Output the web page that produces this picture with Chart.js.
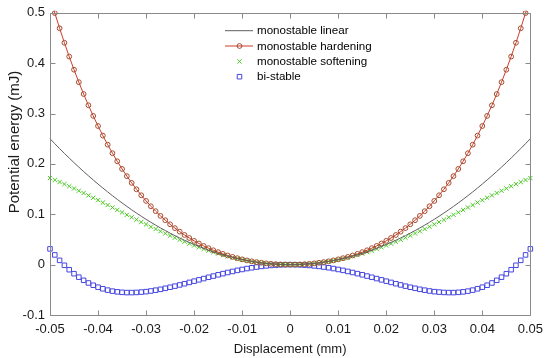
<!DOCTYPE html>
<html>
<head>
<meta charset="utf-8">
<script src="https://cdn.jsdelivr.net/npm/chart.js@4/dist/chart.umd.min.js"></script>
<style>
html,body{margin:0;padding:0;background:#fff;}
#wrap{width:550px;height:358px;}
</style>
</head>
<body>
<div id="wrap"><canvas id="c" width="550" height="358"></canvas></div>
<script>
// Displacement (mm)
const xValues = [-0.05,-0.049,-0.048,-0.047,-0.046,-0.045,-0.044,-0.043,-0.042,-0.041,-0.04,-0.039,-0.038,-0.037,-0.036,-0.035,-0.034,-0.033,-0.032,-0.031,-0.03,-0.029,-0.028,-0.027,-0.026,-0.025,-0.024,-0.023,-0.022,-0.021,-0.02,-0.019,-0.018,-0.017,-0.016,-0.015,-0.014,-0.013,-0.012,-0.011,-0.01,-0.009,-0.008,-0.007,-0.006,-0.005,-0.004,-0.003,-0.002,-0.001,0,
0.001,0.002,0.003,0.004,0.005,0.006,0.007,0.008,0.009,0.01,0.011,0.012,0.013,0.014,0.015,0.016,0.017,0.018,0.019,0.02,0.021,0.022,0.023,0.024,0.025,0.026,0.027,0.028,0.029,0.03,0.031,0.032,0.033,0.034,0.035,0.036,0.037,0.038,0.039,0.04,0.041,0.042,0.043,0.044,0.045,0.046,0.047,0.048,0.049,0.05];

// Potential energy (mJ)
const linear = [0.25,0.2401,0.2304,0.2209,0.2116,0.2025,0.1936,0.1849,0.1764,0.1681,0.16,0.1521,0.1444,0.1369,0.1296,0.1225,0.1156,0.1089,0.1024,0.0961,0.09,0.0841,0.0784,0.0729,0.0676,0.0625,0.0576,0.0529,0.0484,0.0441,0.04,0.0361,0.0324,0.0289,0.0256,0.0225,0.0196,0.0169,0.0144,0.0121,0.01,0.0081,0.0064,0.0049,0.0036,0.0025,0.0016,0.0009,0.0004,0.0001,0,
0.0001,0.0004,0.0009,0.0016,0.0025,0.0036,0.0049,0.0064,0.0081,0.01,0.0121,0.0144,0.0169,0.0196,0.0225,0.0256,0.0289,0.0324,0.0361,0.04,0.0441,0.0484,0.0529,0.0576,0.0625,0.0676,0.0729,0.0784,0.0841,0.09,0.0961,0.1024,0.1089,0.1156,0.1225,0.1296,0.1369,0.1444,0.1521,0.16,0.1681,0.1764,0.1849,0.1936,0.2025,0.2116,0.2209,0.2304,0.2401,0.25];

const hardening = [0.5313,0.4995,0.4693,0.4405,0.4131,0.3870,0.3623,0.3387,0.3164,0.2953,0.2752,0.2562,0.2382,0.2212,0.2052,0.1900,0.1757,0.1623,0.1496,0.1377,0.1265,0.1159,0.1061,0.0968,0.0882,0.0801,0.0725,0.0655,0.0589,0.0529,0.0472,0.0420,0.0371,0.0327,0.0285,0.0248,0.0213,0.0182,0.0153,0.0128,0.0105,0.0084,0.0066,0.0050,0.0037,0.0025,0.0016,0.0009,0.0004,0.0001,0,
0.0001,0.0004,0.0009,0.0016,0.0025,0.0037,0.0050,0.0066,0.0084,0.0105,0.0128,0.0153,0.0182,0.0213,0.0248,0.0285,0.0327,0.0371,0.0420,0.0472,0.0529,0.0589,0.0655,0.0725,0.0801,0.0882,0.0968,0.1061,0.1159,0.1265,0.1377,0.1496,0.1623,0.1757,0.1900,0.2052,0.2212,0.2382,0.2562,0.2752,0.2953,0.3164,0.3387,0.3623,0.3870,0.4131,0.4405,0.4693,0.4995,0.5313];

const softening = [0.1719,0.1680,0.1640,0.1599,0.1556,0.1512,0.1467,0.1422,0.1375,0.1328,0.128,0.1232,0.1183,0.1135,0.1086,0.1037,0.0989,0.0941,0.0893,0.0846,0.0799,0.0753,0.0707,0.0663,0.0619,0.0576,0.0535,0.0494,0.0455,0.0417,0.038,0.0345,0.0311,0.0279,0.0248,0.0219,0.0191,0.0165,0.0141,0.0119,0.0099,0.0080,0.0063,0.0049,0.0036,0.0025,0.0016,0.0009,0.0004,0.0001,0,
0.0001,0.0004,0.0009,0.0016,0.0025,0.0036,0.0049,0.0063,0.0080,0.0099,0.0119,0.0141,0.0165,0.0191,0.0219,0.0248,0.0279,0.0311,0.0345,0.038,0.0417,0.0455,0.0494,0.0535,0.0576,0.0619,0.0663,0.0707,0.0753,0.0799,0.0846,0.0893,0.0941,0.0989,0.1037,0.1086,0.1135,0.1183,0.1232,0.128,0.1328,0.1375,0.1422,0.1467,0.1512,0.1556,0.1599,0.1640,0.1680,0.1719];

const bistable = [0.0313,0.0193,0.0085,-0.0013,-0.0101,-0.0180,-0.0249,-0.0311,-0.0364,-0.0409,-0.0448,-0.0480,-0.0506,-0.0526,-0.0540,-0.0550,-0.0555,-0.0555,-0.0552,-0.0545,-0.0536,-0.0523,-0.0507,-0.0490,-0.0470,-0.0449,-0.0427,-0.0403,-0.0379,-0.0353,-0.0328,-0.0302,-0.0277,-0.0251,-0.0227,-0.0202,-0.0179,-0.0156,-0.0135,-0.0114,-0.0096,-0.0078,-0.0062,-0.0048,-0.0035,-0.0025,-0.0016,-0.0009,-0.0004,-0.0001,0,
-0.0001,-0.0004,-0.0009,-0.0016,-0.0025,-0.0035,-0.0048,-0.0062,-0.0078,-0.0096,-0.0114,-0.0135,-0.0156,-0.0179,-0.0202,-0.0227,-0.0251,-0.0277,-0.0302,-0.0328,-0.0353,-0.0379,-0.0403,-0.0427,-0.0449,-0.0470,-0.0490,-0.0507,-0.0523,-0.0536,-0.0545,-0.0552,-0.0555,-0.0555,-0.0550,-0.0540,-0.0526,-0.0506,-0.0480,-0.0448,-0.0409,-0.0364,-0.0311,-0.0249,-0.0180,-0.0101,-0.0013,0.0085,0.0193,0.0313];

const seriesNames = ["monostable linear","monostable hardening","monostable softening","bi-stable"];
const xTickValues = [-0.05,-0.04,-0.03,-0.02,-0.01,0,0.01,0.02,0.03,0.04,0.05];
const xTickLabels = ["-0.05","-0.04","-0.03","-0.02","-0.01","0","0.01","0.02","0.03","0.04","0.05"];
const yTickValues = [-0.1,0,0.1,0.2,0.3,0.4,0.5];
const yTickLabels = ["-0.1","0","0.1","0.2","0.3","0.4","0.5"];
const xTitle = "Displacement (mm)";
const yTitle = "Potential energy (mJ)";

const FONT = "'Liberation Sans', Arial, Helvetica, sans-serif";
const AXIS_COLOR = '#8a8a8a';
const TEXT_COLOR = '#1a1a1a';

function pts(ys){ return xValues.map((x,i)=>({x:x, y:ys[i]})); }
function labelFor(vals, labels, v){
  for (let i=0;i<vals.length;i++){ if (Math.abs(vals[i]-v) < 1e-9) return labels[i]; }
  return '';
}

const boxPlugin = {
  id: 'boxTicks',
  afterDatasetsDraw(chart){
    const ctx = chart.ctx, a = chart.chartArea;
    const xs = chart.scales.x, ys = chart.scales.y;
    ctx.save();
    ctx.strokeStyle = AXIS_COLOR;
    ctx.lineWidth = 1;
    const L = Math.round(a.left)+0.5, R = Math.round(a.right)+0.5, T = Math.round(a.top)+0.5, B = Math.round(a.bottom)+0.5;
    ctx.beginPath();
    ctx.rect(L, T, R-L, B-T);
    ctx.stroke();
    const tl = 5;
    ctx.beginPath();
    xTickValues.forEach(v=>{
      const px = Math.round(xs.getPixelForValue(v))+0.5;
      ctx.moveTo(px, B); ctx.lineTo(px, B-tl);
      ctx.moveTo(px, T); ctx.lineTo(px, T+tl);
    });
    yTickValues.forEach(v=>{
      const py = Math.round(ys.getPixelForValue(v))+0.5;
      ctx.moveTo(L, py); ctx.lineTo(L+tl, py);
      ctx.moveTo(R, py); ctx.lineTo(R-tl, py);
    });
    ctx.stroke();
    ctx.restore();
  }
};

const legendPlugin = {
  id: 'matLegend',
  afterDraw(chart){
    const ctx = chart.ctx;
    const x0 = 225, x1 = 253, xm = 239.5, tx = 257;
    const rows = [30.7, 46, 61.4, 76.7];
    ctx.save();
    ctx.font = "11.6px " + FONT;
    ctx.textBaseline = 'middle';
    chart.data.datasets.forEach((ds, i)=>{
      const y = rows[i];
      if (ds.showLine !== false){
        ctx.strokeStyle = ds.borderColor;
        ctx.lineWidth = ds.borderWidth;
        ctx.beginPath(); ctx.moveTo(x0, y); ctx.lineTo(x1, y); ctx.stroke();
      }
      if (ds.pointRadius > 0){
        ctx.strokeStyle = ds.pointBorderColor;
        ctx.fillStyle = 'rgba(0,0,0,0)';
        ctx.lineWidth = ds.pointBorderWidth;
        Chart.helpers.drawPoint(ctx, {pointStyle: ds.pointStyle, radius: ds.pointRadius, borderWidth: ds.pointBorderWidth, rotation: 0}, xm, y);
      }
      ctx.fillStyle = '#000';
      ctx.fillText(seriesNames[i], tx, y+0.5);
    });
    // y axis title
    ctx.save();
    ctx.translate(14.5, 142);
    ctx.rotate(-Math.PI/2);
    ctx.font = "15px " + FONT;
    ctx.fillStyle = TEXT_COLOR;
    ctx.textAlign = 'center';
    ctx.textBaseline = 'middle';
    ctx.fillText(yTitle, 0, 0);
    ctx.restore();
    ctx.restore();
  }
};

const chart = new Chart(document.getElementById('c'), {
  type: 'line',
  data: {
    datasets: [
      {
        label: seriesNames[0], data: pts(linear),
        borderColor: 'rgb(95,95,95)', borderWidth: 1, pointRadius: 0, showLine: true,
        tension: 0, clip: {left:5, top:0, right:5, bottom:5}
      },
      {
        label: seriesNames[1], data: pts(hardening),
        borderColor: 'rgb(205,60,40)', borderWidth: 1, showLine: true,
        pointStyle: 'circle', pointRadius: 2.4, pointBorderWidth: 1,
        pointBorderColor: 'rgb(165,75,45)', pointBackgroundColor: 'rgba(0,0,0,0)',
        tension: 0, clip: {left:5, top:2, right:5, bottom:5}
      },
      {
        label: seriesNames[2], data: pts(softening),
        showLine: false, borderColor: 'rgb(70,200,30)', borderWidth: 1,
        pointStyle: 'crossRot', pointRadius: 3, pointBorderWidth: 1,
        pointBorderColor: 'rgb(70,200,30)', pointBackgroundColor: 'rgba(0,0,0,0)',
        clip: {left:5, top:5, right:5, bottom:5}
      },
      {
        label: seriesNames[3], data: pts(bistable),
        showLine: false, borderColor: 'rgb(70,70,225)', borderWidth: 1,
        pointStyle: 'rect', pointRadius: 3.2, pointBorderWidth: 1,
        pointBorderColor: 'rgb(70,70,225)', pointBackgroundColor: 'rgba(0,0,0,0)',
        clip: {left:5, top:5, right:5, bottom:5}
      }
    ]
  },
  options: {
    responsive: false,
    animation: false,
    events: [],
    layout: { padding: { left: 0, right: 17.5, top: 10.5, bottom: 0 } },
    plugins: { legend: { display: false }, tooltip: { enabled: false } },
    scales: {
      x: {
        type: 'linear', min: -0.05, max: 0.05,
        afterBuildTicks(s){ s.ticks = xTickValues.map(v=>({value:v})); },
        afterFit(s){ s.height = 43; },
        grid: { display: false, drawTicks: false },
        border: { display: false },
        ticks: {
          color: TEXT_COLOR, padding: 7, maxRotation: 0, autoSkip: false,
          font: { family: FONT, size: 13 },
          callback: (v)=>labelFor(xTickValues, xTickLabels, v)
        },
        title: { display: true, text: xTitle, color: TEXT_COLOR, font: { family: FONT, size: 13 }, padding: { top: 0, bottom: 1 } }
      },
      y: {
        type: 'linear', min: -0.1, max: 0.5,
        afterBuildTicks(s){ s.ticks = yTickValues.map(v=>({value:v})); },
        afterFit(s){ s.width = 50; },
        grid: { display: false, drawTicks: false },
        border: { display: false },
        ticks: {
          color: TEXT_COLOR, padding: 5, autoSkip: false,
          font: { family: FONT, size: 13 },
          callback: (v)=>labelFor(yTickValues, yTickLabels, v)
        },
        title: { display: false }
      }
    }
  },
  plugins: [boxPlugin, legendPlugin]
});
</script>
</body>
</html>
